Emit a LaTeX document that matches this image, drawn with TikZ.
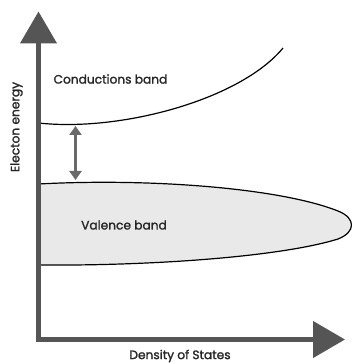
\documentclass[tikz,border=0pt]{standalone}
\usepackage{fontspec}
\setmainfont{Poppins}
\newfontfamily\lblfont{Poppins}[FakeBold=1.6]
\usetikzlibrary{arrows.meta}
\definecolor{axisgray}{HTML}{555555}
\definecolor{gapgray}{HTML}{6A6A6A}
\definecolor{bandfill}{HTML}{E9E9E9}
\begin{document}
\begin{tikzpicture}[x=1pt,y=-1pt,
  axisline/.style={draw=axisgray,line width=4.5pt,
    {Triangle[width=36pt,length=32pt]}-{Triangle[width=36pt,length=32pt]}},
  bandline/.style={draw=black,line width=1.2pt},
  gaparrow/.style={draw=gapgray,line width=2.2pt,
    {Triangle[width=12pt,length=9pt]}-{Triangle[width=12pt,length=9pt]}},
  lbl/.style={font=\lblfont\fontsize{12.2}{14}\selectfont,text=black!85,inner sep=0pt}]
\useasboundingbox (0,0) rectangle (352,363);
% valence band
\path[fill=bandfill,bandline] (38.5,184) .. controls (150,178) and (280,188) .. (338,211)
  .. controls (356,218) and (356,232) .. (338,239)
  .. controls (280,257) and (150,266) .. (38.5,265) -- cycle;
% conduction band
\coordinate (cbstart) at (38.5,123);
\coordinate (cbend) at (283,48);
\draw[bandline] (cbstart) .. controls (120,132) and (240,100) .. (cbend);
% gap arrow
\coordinate (gtop) at (75.5,126);
\coordinate (gbot) at (75.5,180);
\draw[gaparrow] (gtop) -- (gbot);
% axes
\coordinate (xend) at (345,339.5);
\coordinate (origin) at (38.5,339.5);
\coordinate (yend) at (38.5,11.5);
\draw[axisline] (xend) -- (origin) -- (yend);
% labels
\node[lbl] (cb) at (110.5,79) {Conductions band};
\node[lbl] (vb) at (124,225) {Valence band};
\node[lbl,rotate=90] (ee) at (16.5,127) {Electon energy};
\node[lbl] (ds) at (180,356) {Density of States};
\end{tikzpicture}
\end{document}
